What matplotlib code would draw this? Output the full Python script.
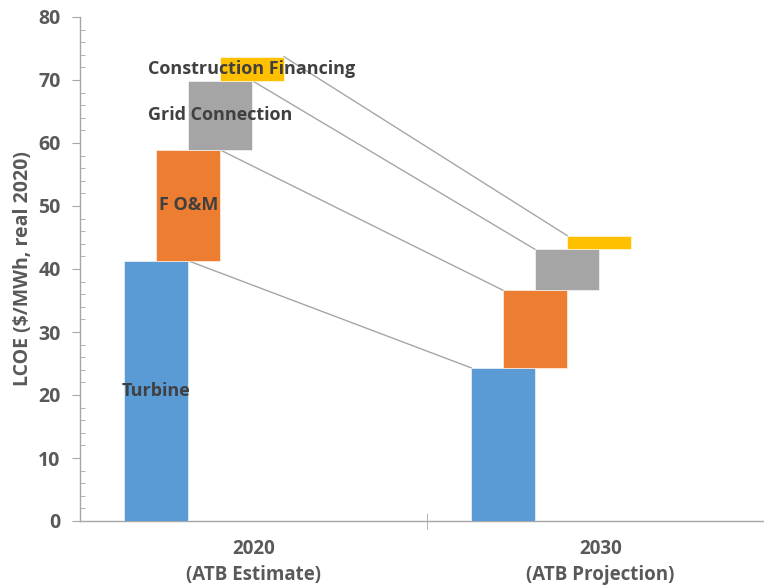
import matplotlib
matplotlib.use("Agg")
import matplotlib.pyplot as plt
from matplotlib.ticker import MultipleLocator, FixedLocator
import numpy as np

# Data: LCOE components ($/MWh, real 2020)
years = ["2020\n(ATB Estimate)", "2030\n(ATB Projection)"]
components = ["Turbine", "F O&M", "Grid Connection", "Construction Financing"]
turbine = [41.3, 24.3]
fom = [17.6, 12.3]
grid = [11.0, 6.5]
construction = [3.8, 2.2]
colors = ["#5B9BD5", "#ED7D31", "#A5A5A5", "#FFC000"]

series = [turbine, fom, grid, construction]

plt.rcParams["font.family"] = ["Open Sans", "DejaVu Sans"]
fig = plt.figure(figsize=(7.64, 5.86), dpi=100)
W, H = 764, 586
ax = fig.add_axes([80 / W, (H - 521) / H, (774 - 80) / W, (521 - 17) / H])

width = 0.184
step = 0.092
first = -0.28
x = np.arange(len(years))

bottoms = np.zeros(len(years))
for i, (vals, col) in enumerate(zip(series, colors)):
    vals = np.array(vals)
    pos = x + first + i * step
    ax.bar(pos, vals, width=width, bottom=bottoms, color=col,
           edgecolor="white", linewidth=0.4, zorder=3)
    tops = bottoms + vals
    # connector from top-right of 2020 bar to top-left of 2030 bar
    ax.plot([pos[0] + width / 2, pos[1] - width / 2], [tops[0], tops[1]],
            color="#A6A6A6", linewidth=1.0, zorder=2)
    # segment label on the 2020 bar
    ax.text(pos[0], bottoms[0] + vals[0] / 2, components[i], ha="center",
            va="center", fontsize=13, fontweight="bold", color="#404040",
            zorder=4)
    bottoms = tops

ax.set_xlim(-0.5, 1.5)
ax.set_ylim(0, 80)

for s in ["top", "right"]:
    ax.spines[s].set_visible(False)
for s in ["left", "bottom"]:
    ax.spines[s].set_color("#A6A6A6")
    ax.spines[s].set_linewidth(1.0)

ax.yaxis.set_major_locator(MultipleLocator(10))
ax.yaxis.set_minor_locator(MultipleLocator(2))
ax.tick_params(axis="y", which="major", direction="out", length=6,
               color="#A6A6A6", labelsize=14, labelcolor="#595959", pad=8)
ax.tick_params(axis="y", which="minor", direction="in", length=3.5,
               color="#A6A6A6")
for lab in ax.get_yticklabels():
    lab.set_fontweight("bold")

ax.set_xticks(x)
ax.set_xticklabels(years, fontsize=13.5, fontweight="bold", color="#595959",
                   linespacing=1.4)
ax.xaxis.set_minor_locator(FixedLocator([0.5]))
ax.tick_params(axis="x", which="major", length=0, pad=13)
ax.tick_params(axis="x", which="minor", direction="inout", length=12,
               color="#A6A6A6")

ax.set_ylabel("LCOE ($/MWh, real 2020)", fontsize=14, fontweight="bold",
              color="#595959", labelpad=4)

fig.savefig("out.png", dpi=100)
